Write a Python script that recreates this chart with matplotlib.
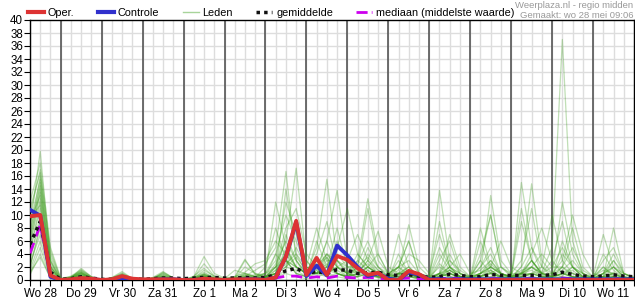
import matplotlib
matplotlib.use("Agg")
import matplotlib.pyplot as plt
from matplotlib.lines import Line2D
import numpy as np

plt.rcParams['font.family'] = ['Liberation Sans', 'DejaVu Sans']

# time axis: days since Wo 28 00:00, 6-hourly from Wo 28 06:00 to Do 12 00:00
day_labels = ["Wo 28", "Do 29", "Vr 30", "Za 31", "Zo 1", "Ma 2", "Di 3", "Wo 4",
              "Do 5", "Vr 6", "Za 7", "Zo 8", "Ma 9", "Di 10", "Wo 11"]
t_start, t_step, n_steps = 0.25, 0.25, 60

oper = [9.8, 10.0, 0.7,
        0, 0.1, 0.3, 0.2,   0, 0.1, 0.6, 0.2,   0.1, 0.1, 0.1, 0.1,   0, 0, 0.2, 0.1,
        0, 0.1, 0.1, 0.1,   0, 0.4, 3.6, 9.1,   0.8, 3.4, 0.8, 3.7,   3.1, 1.8, 0.8, 1.1,
        0, 0, 1.4, 0.9,     0, 0, 0, 0,         0, 0, 0, 0,           0, 0, 0, 0,
        0, 0, 0, 0,         0, 0, 0, 0,
        0]
controle = [10.8, 9.9, 0.5,
            0, 0, 0.1, 0.1,   0, 0, 0.3, 0.1,   0, 0, 0.1, 0.1,   0, 0, 0.1, 0,
            0, 0, 0.1, 0.1,   0, 0.4, 3.6, 8.9,  0.6, 2.2, 0.7, 5.3,  3.8, 2.0, 0.6, 1.0,
            0.2, 0, 1.2, 0.8,  0.1, 0.1, 0.1, 0.1,  0.1, 0.1, 0.1, 0.1,  0.1, 0.1, 0.1, 0.1,
            0.1, 0.1, 0.1, 0.1,  0.1, 0.1, 0.1, 0.1,
            0.1]
gemiddelde = [5.5, 9.0, 1.2,
              0.1, 0.2, 0.5, 0.3,   0.1, 0.1, 0.4, 0.2,   0.1, 0.2, 0.3, 0.3,   0.2, 0.3, 0.4, 0.4,
              0.3, 0.3, 0.4, 0.3,   0.4, 0.8, 1.4, 1.8,   1.0, 1.3, 1.0, 1.6,   1.5, 1.0, 1.1, 1.2,
              0.8, 0.7, 0.8, 0.6,   0.4, 0.5, 0.9, 0.7,   0.5, 0.5, 0.85, 0.7,  0.7, 0.7, 0.7, 0.7,
              0.8, 1.2, 0.85, 0.6,  0.5, 0.6, 0.8, 0.6,
              0.5]
mediaan = [4.1, 8.5, 0.5,
           0, 0, 0.1, 0,   0, 0, 0.1, 0,   0, 0, 0.1, 0,   0, 0, 0.1, 0,
           0, 0, 0.1, 0.1,   0.1, 0.3, 0.6, 0.6,   0.3, 0.5, 0.3, 0.6,   0.4, 0.3, 0.4, 0.3,
           0.1, 0.2, 0.3, 0.2,   0.1, 0.2, 0.3, 0.2,   0.1, 0.2, 0.2, 0.2,   0.1, 0.2, 0.2, 0.1,
           0.1, 0.3, 0.2, 0.1,   0.1, 0.1, 0.2, 0.1,
           0.1]

leden = [
    [4, 12, 1.5, 0, 0.4, 1.2, 0.3, 0, 0.3, 0.9, 0.1, 0, 0.2, 0.5, 0.1, 0, 0.4, 1.2, 0.3, 0, 0.2, 0.6, 1.5,
     2.5, 5, 16.7, 3, 1, 2, 3.5, 1, 0.5, 2, 1, 0.4, 0, 0.6, 1.2, 0.2, 0, 2.5, 1, 0.4, 0.2, 0.6, 1.1, 0.3,
     0, 1.2, 3, 0.8, 0.2, 0.6, 2, 1, 0, 0.2, 1.2, 0.4, 0],
    [8, 19.8, 3, 0, 0.3, 1.8, 0.5, 0, 0.2, 0.5, 0, 0, 0, 0.3, 0, 0, 0.2, 0.4, 0.1, 0, 0.1, 0.4, 0.3,
     0.5, 2, 6, 17.2, 3, 1, 4, 2, 1, 3, 12.5, 4, 1, 2, 0.5, 0.3, 0, 1, 0.5, 0.2, 0.5, 3, 10, 2,
     0.5, 1, 2, 0.6, 0.3, 1, 0.5, 0.2, 0, 0.5, 1, 0.3, 0],
    [2, 8, 0.5, 0, 0.2, 0.8, 0.2, 0, 0.1, 0.3, 0, 0, 0.1, 1.2, 0.3, 0, 0.5, 3.6, 1, 0.3, 0.5, 1, 0.5,
     0.2, 1.5, 3, 2, 1, 5, 15.5, 3, 1, 0.5, 2, 0.8, 0.2, 1, 2, 0.5, 0, 1, 3, 1.5, 0.5, 1, 1.5, 0.5,
     0, 15, 5, 1, 1, 2, 0.5, 0.2, 0.2, 1, 3, 0.5, 0.2],
    [6, 15, 2.5, 0, 0.5, 1.4, 0.4, 0, 0.4, 1.3, 0.2, 0, 0.3, 0.6, 0.2, 0, 0.2, 0.8, 0.3, 0, 0.3, 3, 1,
     0.5, 1, 2.5, 4, 2, 1.5, 6, 13.8, 3, 1, 0.5, 0.5, 0, 0.8, 1.5, 0.4, 0.5, 13.8, 3, 1, 0.5, 1, 2, 0.8,
     0.3, 2, 14.8, 3, 1, 0.5, 0.3, 0.2, 0, 0.5, 0.5, 0.2, 0],
    [1, 5, 0.3, 0, 0.1, 0.5, 0.1, 0, 0, 0.2, 0, 0, 0, 0.2, 0, 0, 0.1, 0.3, 0, 0, 0.1, 0.3, 0.2,
     0.3, 4, 10, 6, 2, 8, 3, 1, 0.5, 1, 5, 2, 0.5, 1.5, 8.5, 2, 0.5, 1, 2, 0.5, 0.2, 0.5, 1.5, 0.5,
     0.3, 1, 2, 1, 2, 5, 2, 0.5, 0.2, 0.5, 8, 1, 0.3],
    [10, 17, 4, 0.2, 0.3, 1, 0.3, 0, 0.2, 0.6, 0.1, 0, 0.2, 1, 0.2, 0, 0.3, 0.6, 0.2, 0.1, 0.3, 0.4, 0.2,
     0.5, 1, 2, 1.5, 0.5, 3, 2, 5, 11, 4, 2, 1, 0.5, 1, 0.8, 0.3, 0, 0.5, 1.5, 0.6, 0.3, 8, 2, 1,
     0.4, 0.8, 1, 0.5, 1, 3, 10, 4, 1, 0.5, 0.3, 0.1, 0],
    [3, 10, 1, 0, 0.3, 0.9, 0.2, 0, 0.3, 0.7, 0.1, 0, 0.1, 0.4, 0.1, 0, 0.1, 0.5, 0.3, 0, 0.2, 0.8, 0.4,
     1, 12, 5, 2, 1, 1.5, 6, 2, 3, 7, 3, 1, 0.5, 3, 1, 0.3, 0, 0.5, 1, 0.5, 0.2, 1, 13, 3,
     1, 3, 11, 2, 0.5, 1, 2, 0.5, 0.5, 7, 2, 0.5, 0.2],
    [5, 14, 2, 0, 0.2, 0.7, 0.1, 0, 0.2, 0.4, 0, 0, 0.2, 0.3, 0.1, 0, 0.2, 0.6, 0.2, 0, 0.5, 3.2, 0.8,
     0.5, 1, 14, 4, 1, 2, 1, 4, 2, 2.5, 6, 2, 1, 2, 6, 1, 0.5, 9, 2, 0.5, 0.3, 0.6, 1.2, 0.3,
     0.2, 0.8, 3, 1, 0.5, 1, 1.5, 0.3, 0.2, 4, 1.5, 0.4, 0.1],
    [7, 16, 3.5, 0.1, 0.6, 1.6, 0.5, 0, 0.3, 1, 0.2, 0, 0.4, 1.3, 0.3, 0.1, 0.4, 2.5, 0.6, 0, 0.2, 0.5, 0.3,
     0.3, 2, 4, 8, 3, 1, 2, 1.5, 0.5, 1, 3, 7.5, 2, 1, 0.5, 0.2, 0.2, 1, 7, 2, 0.5, 2, 4, 1,
     0.2, 1, 4, 8, 3, 1, 0.5, 0.3, 0.2, 0.5, 3, 1, 0.3],
    [2.5, 7, 0.8, 0, 0.1, 0.4, 0.1, 0, 0.1, 0.5, 0.1, 0, 0, 0.3, 0, 0, 0.2, 0.4, 0.1, 0, 0.1, 0.2, 0.5,
     1, 3, 12, 7, 2, 1, 3, 3, 1.5, 1, 2, 1, 0.3, 0.5, 1, 0.5, 0.2, 0.5, 1, 0.3, 0.1, 0.5, 1, 2,
     0.8, 0.5, 1, 1.2, 5, 37, 6, 1, 0.2, 0.5, 1, 0.3, 0.1],
    [9, 13, 2, 0, 0.4, 1.1, 0.3, 0, 0.2, 0.8, 0.1, 0, 0.3, 0.7, 0.2, 0, 0.3, 1, 0.4, 0.2, 1.5, 1, 0.5,
     1, 2, 8, 11, 4, 2, 4, 2, 1, 2, 11, 3, 1, 0.5, 1, 0.2, 0.5, 5, 2, 1, 0.3, 1, 2, 1,
     0.5, 2, 5, 2, 1, 12, 4, 1, 0.5, 3, 5, 1, 0.3],
    [4.5, 11, 1.8, 0, 0.2, 0.6, 0.2, 0, 0.1, 0.3, 0, 0, 0.1, 0.2, 0, 0, 0.1, 0.2, 0.1, 0, 0.1, 0.3, 0.5,
     0.5, 1, 3, 1, 0.5, 6, 2, 8, 2, 1, 1.5, 0.5, 0.2, 4, 1, 0.5, 0.2, 0.6, 1.5, 0.5, 0.3, 4, 10, 2,
     1, 1, 1.5, 0.5, 0.3, 6, 2, 0.5, 0.1, 0.3, 0.5, 0.2, 0],
    [12, 18, 5, 0.3, 0.5, 1.3, 0.4, 0, 0.2, 0.7, 0.2, 0, 0.2, 0.5, 0.1, 0, 0.3, 1.5, 0.6, 0.2, 0.5, 1.2, 2.5,
     3, 6, 4, 2, 1, 1, 2, 6, 3, 1, 2, 4, 1, 2, 3, 1, 0.5, 1, 0.5, 0.2, 0.1, 0.5, 2, 6,
     2, 1, 3, 1, 0.5, 2, 1, 0.5, 0.3, 1, 2, 1, 0.5],
    [1.5, 6, 0.5, 0, 0.2, 0.6, 0.1, 0, 0.1, 0.4, 0, 0, 0, 0.2, 0, 0, 0.3, 0.8, 0.2, 0, 0.2, 0.8, 0.3,
     0.3, 2.5, 6, 3, 0.5, 1, 1, 2, 1, 0.5, 4, 2, 0.5, 7, 2, 0.5, 0.3, 4, 1.5, 0.5, 0.2, 0.5, 1, 0.5,
     0.2, 0.5, 1, 2, 10, 3, 1, 0.3, 0, 0.5, 1, 0.2, 0],
    [6.5, 13.5, 2.2, 0, 0.3, 1, 0.3, 0, 0.3, 1.1, 0.2, 0, 0.2, 0.8, 0.2, 0, 0.2, 0.7, 0.2, 0, 0.2, 0.4, 0.2,
     0.2, 0.5, 1.5, 9, 2, 1, 3.5, 1, 0.5, 3, 1.5, 0.5, 0.3, 1, 2, 0.5, 0.2, 1, 4, 1, 0.4, 3, 1, 0.5,
     0.5, 9, 3, 1, 0.5, 1, 0.5, 0.2, 0.2, 1, 0.5, 0.2, 0],
    [3.5, 9, 1.2, 0, 0.1, 0.5, 0.1, 0, 0.2, 0.6, 0.1, 0, 0.3, 0.9, 0.2, 0, 0.4, 0.9, 0.2, 0, 0.2, 1, 0.6,
     0.5, 1, 4.5, 2, 1, 2.5, 1, 3, 1, 4, 2, 1, 0.5, 2, 6, 1, 0.5, 2, 1, 0.5, 0.2, 6, 1.5, 0.5,
     0.2, 0.5, 2, 4, 2, 2, 8, 2, 0.5, 2, 0.8, 0.3, 0.1],
    [8.5, 15.5, 3, 0.1, 0.4, 1.5, 0.5, 0, 0.2, 0.6, 0.1, 0, 0.1, 0.3, 0.1, 0, 0.2, 0.5, 0.2, 0.1, 0.4, 0.6, 0.4,
     2, 8, 3, 1, 0.5, 3, 1, 2, 0.5, 1, 3, 1.5, 0.5, 1, 1.5, 0.5, 0.2, 3, 6, 1, 0.5, 1, 3, 1,
     0.5, 1, 0.5, 0.3, 0.5, 4, 2, 1, 0.3, 2, 0.5, 0.2, 0],
    [0.8, 4, 0.2, 0, 0.1, 0.3, 0, 0, 0, 0.2, 0, 0, 0.1, 0.2, 0, 0, 0.1, 0.3, 0.1, 0, 0.1, 0.2, 0.1,
     0.2, 1, 7, 3, 1, 4, 9, 2, 1, 0.5, 1, 0.5, 0.2, 0.5, 0.5, 0.2, 0, 0.5, 1, 0.5, 0.2, 2, 5, 1,
     0.5, 1, 1, 0.5, 0.2, 0.5, 0.2, 0.1, 0, 0.2, 0.5, 0.1, 0],
    [5.5, 12.5, 1.5, 0, 0.3, 0.8, 0.2, 0, 0.2, 0.5, 0.1, 0, 0.2, 0.6, 0.1, 0, 0.2, 0.6, 0.2, 0, 0.2, 0.5, 0.8,
     1, 4, 2, 5, 2, 1, 2, 1, 0.5, 1, 2, 1, 0.3, 1, 4, 3, 1, 7, 2, 0.5, 0.2, 1, 2, 1,
     0.5, 11, 3, 1, 0.5, 1, 1, 0.5, 0.2, 1, 4, 1, 0.3],
    [11, 16.5, 4.5, 0.2, 0.4, 1.2, 0.3, 0, 0.3, 0.8, 0.2, 0, 0.2, 0.4, 0.1, 0, 0.2, 0.5, 0.2, 0, 0.1, 0.4, 0.3,
     0.5, 1.5, 3, 2, 1, 2, 4, 3, 2, 2, 1, 0.5, 0.2, 0.8, 1.5, 0.5, 0.2, 0.8, 2, 4, 1, 1.5, 3, 1,
     0.5, 1.5, 2, 1, 3, 9, 2, 0.5, 0.2, 0.5, 2, 0.5, 0.2],
    [2, 8.5, 1, 0, 0.2, 0.5, 0.1, 0, 0.1, 0.4, 0.1, 0, 0.1, 0.3, 0.1, 0, 0.6, 1.8, 0.5, 0, 0.3, 2, 1,
     0.5, 2, 3, 1, 0.5, 1, 1.5, 1, 0.5, 1.5, 2.5, 1, 0.5, 1, 1, 0.3, 0.1, 0.5, 2, 1, 0.3, 0.5, 1, 0.4,
     0.2, 0.5, 1, 0.5, 0.5, 1.5, 3, 1, 0.3, 1, 2, 0.5, 0.2],
    [7.5, 14.5, 2.8, 0, 0.3, 1.1, 0.2, 0, 0.2, 0.6, 0.1, 0, 0.3, 1.1, 0.3, 0, 0.2, 0.9, 0.2, 0, 0.2, 0.3, 0.2,
     0.2, 1, 2, 3.5, 1.5, 1, 2.5, 1, 0.5, 2, 3.5, 1.5, 0.5, 2, 1, 0.5, 0.2, 1, 1.5, 0.5, 0.2, 1, 2.5, 1,
     0.3, 1, 2, 1, 0.5, 2, 5, 1.5, 0.5, 1.5, 1, 0.3, 0.1],
    [9.5, 11.5, 2, 0, 0.2, 0.9, 0.2, 0, 0.1, 0.3, 0, 0, 0.1, 0.5, 0.1, 0, 0.1, 0.4, 0.1, 0, 0.1, 0.2, 0.2,
     0.3, 1, 5, 2, 1, 1, 0.5, 1, 0.3, 0.5, 1, 0.5, 0.2, 0.5, 1, 0.3, 0.1, 0.5, 1, 0.3, 0.1, 0.3, 0.5, 0.2,
     0.1, 0.5, 1, 0.5, 0.3, 1, 0.5, 0.2, 0.1, 0.2, 0.5, 0.1, 0],
    [1.2, 3.5, 0.3, 0, 0.1, 0.3, 0.1, 0, 0.1, 0.2, 0, 0, 0, 0.1, 0, 0, 0.1, 0.2, 0, 0, 0, 0.1, 0.1,
     0.1, 0.5, 1, 0.5, 0.2, 0.5, 1, 0.5, 0.2, 0.5, 1, 0.3, 0.1, 0.3, 0.5, 0.2, 0, 0.3, 0.5, 0.2, 0.1, 0.3, 0.5, 0.2,
     0.1, 0.3, 0.5, 0.2, 0.1, 0.3, 0.5, 0.2, 0.1, 0.2, 0.3, 0.1, 0],
]

t = t_start + t_step * np.arange(n_steps)

W, H = 635, 300
fig = plt.figure(figsize=(W / 100, H / 100), dpi=100)
ax = fig.add_axes([30 / W, 20 / H, (634 - 30) / W, (280 - 20) / H])

x_end = t_start + t_step * (n_steps - 1)
ax.set_xlim(t_start, x_end)
ax.set_ylim(0, 40)

# grid
for xv in np.arange(t_start, x_end + 1e-9, 0.25):
    ax.axvline(xv, color='#dddddd', lw=1, zorder=0)
for yv in range(2, 40, 2):
    ax.axhline(yv, color='#dddddd', lw=1, zorder=0)
for d in range(1, len(day_labels)):
    ax.axvline(d, color='#555555', lw=1.2, zorder=1)

for m in leden:
    ax.plot(t, m, color='#3c9c1c', alpha=0.32, lw=0.9, zorder=2)
ax.plot(t, mediaan, color='#cc00ee', lw=2, ls=(0, (4, 2.5)), zorder=3)
ax.plot(t, gemiddelde, color='#111111', lw=2.5, ls=(0, (1, 1.2)), zorder=4)
ax.plot(t, controle, color='#3030cc', lw=2.8, zorder=5)
ax.plot(t, oper, color='#dd3333', lw=2.8, zorder=6)

# ticks
ax.set_yticks(range(0, 41, 2))
ax.tick_params(axis='y', length=4, pad=1, labelsize=8.3, direction='out')
xt = np.arange(t_start, x_end + 1e-9, 0.25)
labels = []
for xv in xt:
    if abs(xv - round(xv - 0.5) - 0.5) < 1e-6:
        labels.append(day_labels[int(round(xv - 0.5))])
    else:
        labels.append('')
ax.set_xticks(xt)
ax.set_xticklabels(labels)
ax.tick_params(axis='x', length=4, pad=2, labelsize=8.3, direction='out')
for s in ax.spines.values():
    s.set_color('black')
    s.set_linewidth(1)

# legend
leg_handles = [Line2D([], [], color='#dd3333', lw=3),
               Line2D([], [], color='#3030cc', lw=3),
               Line2D([], [], color='#a8d49a', lw=1),
               Line2D([], [], color='#111111', lw=2.5, ls=(0, (1, 1.2))),
               Line2D([], [], color='#cc00ee', lw=2, ls=(0, (4, 1.5, 0.6, 1.5)))]
fig.legend(leg_handles, ["Oper.", "Controle", "Leden", "gemiddelde", "mediaan (middelste waarde)"],
           loc='center left', bbox_to_anchor=(28 / W, 1 - 13 / H), ncol=5, frameon=False,
           fontsize=7.8, handlelength=1.48, handletextpad=0.36, columnspacing=2.15,
           borderpad=0, borderaxespad=0)

fig.text(633 / W, 1 - 5 / H, "Weerplaza.nl - regio midden", ha='right', va='center',
         fontsize=6.8, color='#999999')
fig.text(633 / W, 1 - 15 / H, "Gemaakt: wo 28 mei 09:06", ha='right', va='center',
         fontsize=6.8, color='#999999')

fig.savefig("out.png", dpi=100)
